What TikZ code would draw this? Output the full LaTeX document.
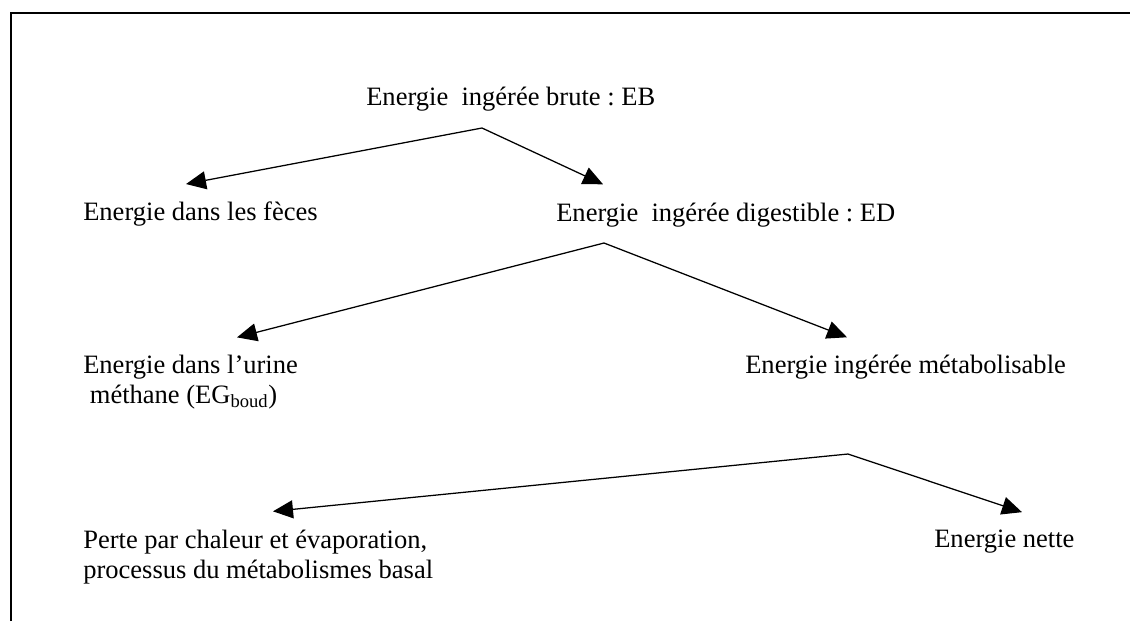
\documentclass[tikz,border=0pt]{standalone}
\usepackage{fontspec}
\setmainfont{Liberation Serif}
\usetikzlibrary{arrows.meta}
\frenchspacing

\tikzset{
  txt/.style={anchor=base west, inner sep=0pt, align=left,
    font=\fontsize{18.86pt}{21.3pt}\selectfont},
  fleche/.style={-{Triangle[length=0.5cm,width=0.45cm]}, line width=0.9pt},
}

\begin{document}
\begin{tikzpicture}[x=0.025cm,y=-0.025cm]
\useasboundingbox (0,0) rectangle (1130,621);
% cadre
\draw[line width=1.4pt] (11,621) -- (11,13) -- (1130,13);

\node[txt] (eb) at (366,105) {Energie\ \ ingérée brute : EB};
\node[txt] (feces) at (83,220) {Energie dans les fèces};
\node[txt] (ed) at (556,221) {Energie\ \ ingérée digestible : ED};
\node[txt] (urine) at (83,403) {Energie dans l’urine\\\hspace*{0.25em}méthane (EG\textsubscript{boud})};
\node[txt] (em) at (745,373) {Energie ingérée métabolisable};
\node[txt] (perte) at (83,578) {Perte par chaleur et évaporation,\\processus du métabolismes basal};
\node[txt] (nette) at (934,547) {Energie nette};

% sommets des fleches
\coordinate (sEB) at (482,128);
\coordinate (sED) at (604,243);
\coordinate (sEM) at (848,454);

\draw[fleche] (sEB) -- ([shift={(103,-17)}]feces.north west);
\draw[fleche] (sEB) -- ([shift={(47,-18)}]ed.north west);
\draw[fleche] (sED) -- ([shift={(154,-17)}]urine.north west);
\draw[fleche] (sED) -- ([shift={(102,-17)}]em.north west);
\draw[fleche] (sEM) -- ([shift={(190,-18)}]perte.north west);
\draw[fleche] (sEM) -- ([shift={(88,-17)}]nette.north west);
\end{tikzpicture}
\end{document}
